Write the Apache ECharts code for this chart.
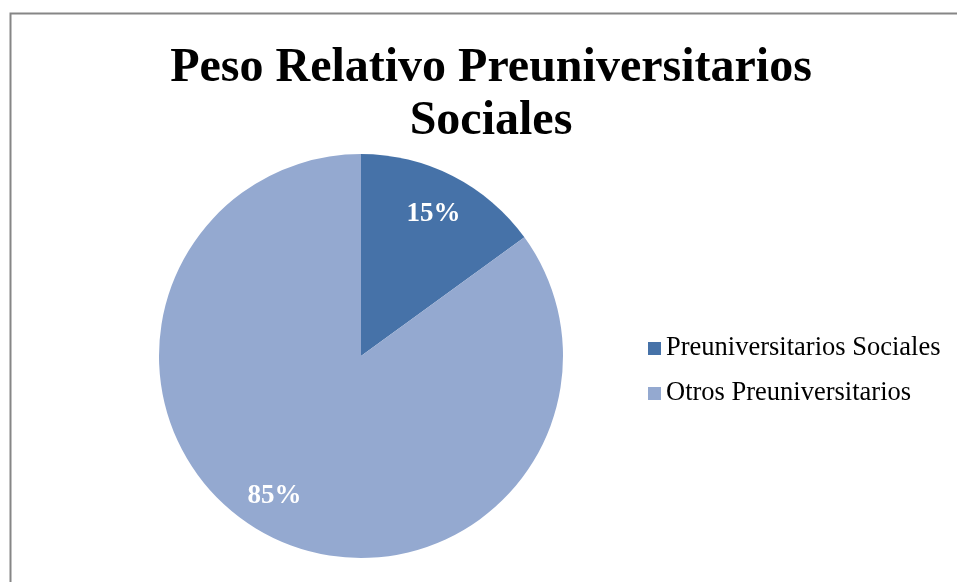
<!DOCTYPE html>
<html><head><meta charset="utf-8">
<script src="https://cdn.jsdelivr.net/npm/echarts@6/dist/echarts.min.js"></script>
<style>html,body{margin:0;padding:0;background:#fff}#c{width:957px;height:582px}</style>
</head><body><div id="c"></div>
<script>
const categories = ['Preuniversitarios Sociales', 'Otros Preuniversitarios'];
const values = [15, 85];
const colors = ['#4672A8', '#94A9D0'];
const titleText = 'Peso Relativo Preuniversitarios\nSociales';

const chart = echarts.init(document.getElementById('c'), null, {renderer: 'canvas'});
const data = categories.map((n, i) => ({name: n, value: values[i], itemStyle: {color: colors[i]}}));
const labelOffsets = [[-2, 4], [-12, -6]];
chart.setOption({
  animation: false,
  backgroundColor: '#fff',
  graphic: [{
    type: 'rect', shape: {x: 10.5, y: 13.5, width: 1000, height: 1000},
    style: {fill: 'none', stroke: '#868686', lineWidth: 2}, z: -1
  }],
  title: {
    text: titleText, left: 486, top: 37, textAlign: 'center',
    textStyle: {fontFamily: 'Liberation Serif', fontWeight: 'bold', fontSize: 48, color: '#000', lineHeight: 53}
  },
  legend: {
    orient: 'vertical', left: 643, top: 328, itemGap: 14,
    itemWidth: 13, itemHeight: 13, icon: 'rect',
    data: categories,
    textStyle: {fontFamily: 'Liberation Serif', fontSize: 26.5, color: '#000', padding: [0,0,0,0], lineHeight: 31}
  },
  series: [{
    type: 'pie', center: [361, 356], radius: [0, 202], startAngle: 90, clockwise: true,
    data: data, label: {show: false}, labelLine: {show: false}, silent: true,
    itemStyle: {borderWidth: 0}
  }, {
    type: 'pie', center: [361, 356], radius: [120, 202], startAngle: 90, clockwise: true,
    data: data.map((d, i) => ({name: d.name, value: d.value, itemStyle: {color: 'rgba(0,0,0,0)'},
      label: {offset: labelOffsets[i]}})),
    legendHoverLink: false, silent: true,
    label: {show: true, position: 'inside', formatter: '{c}%', fontFamily: 'Liberation Serif',
      fontWeight: 'bold', fontSize: 27, color: '#fff'},
    labelLine: {show: false}
  }]
});
</script></body></html>
